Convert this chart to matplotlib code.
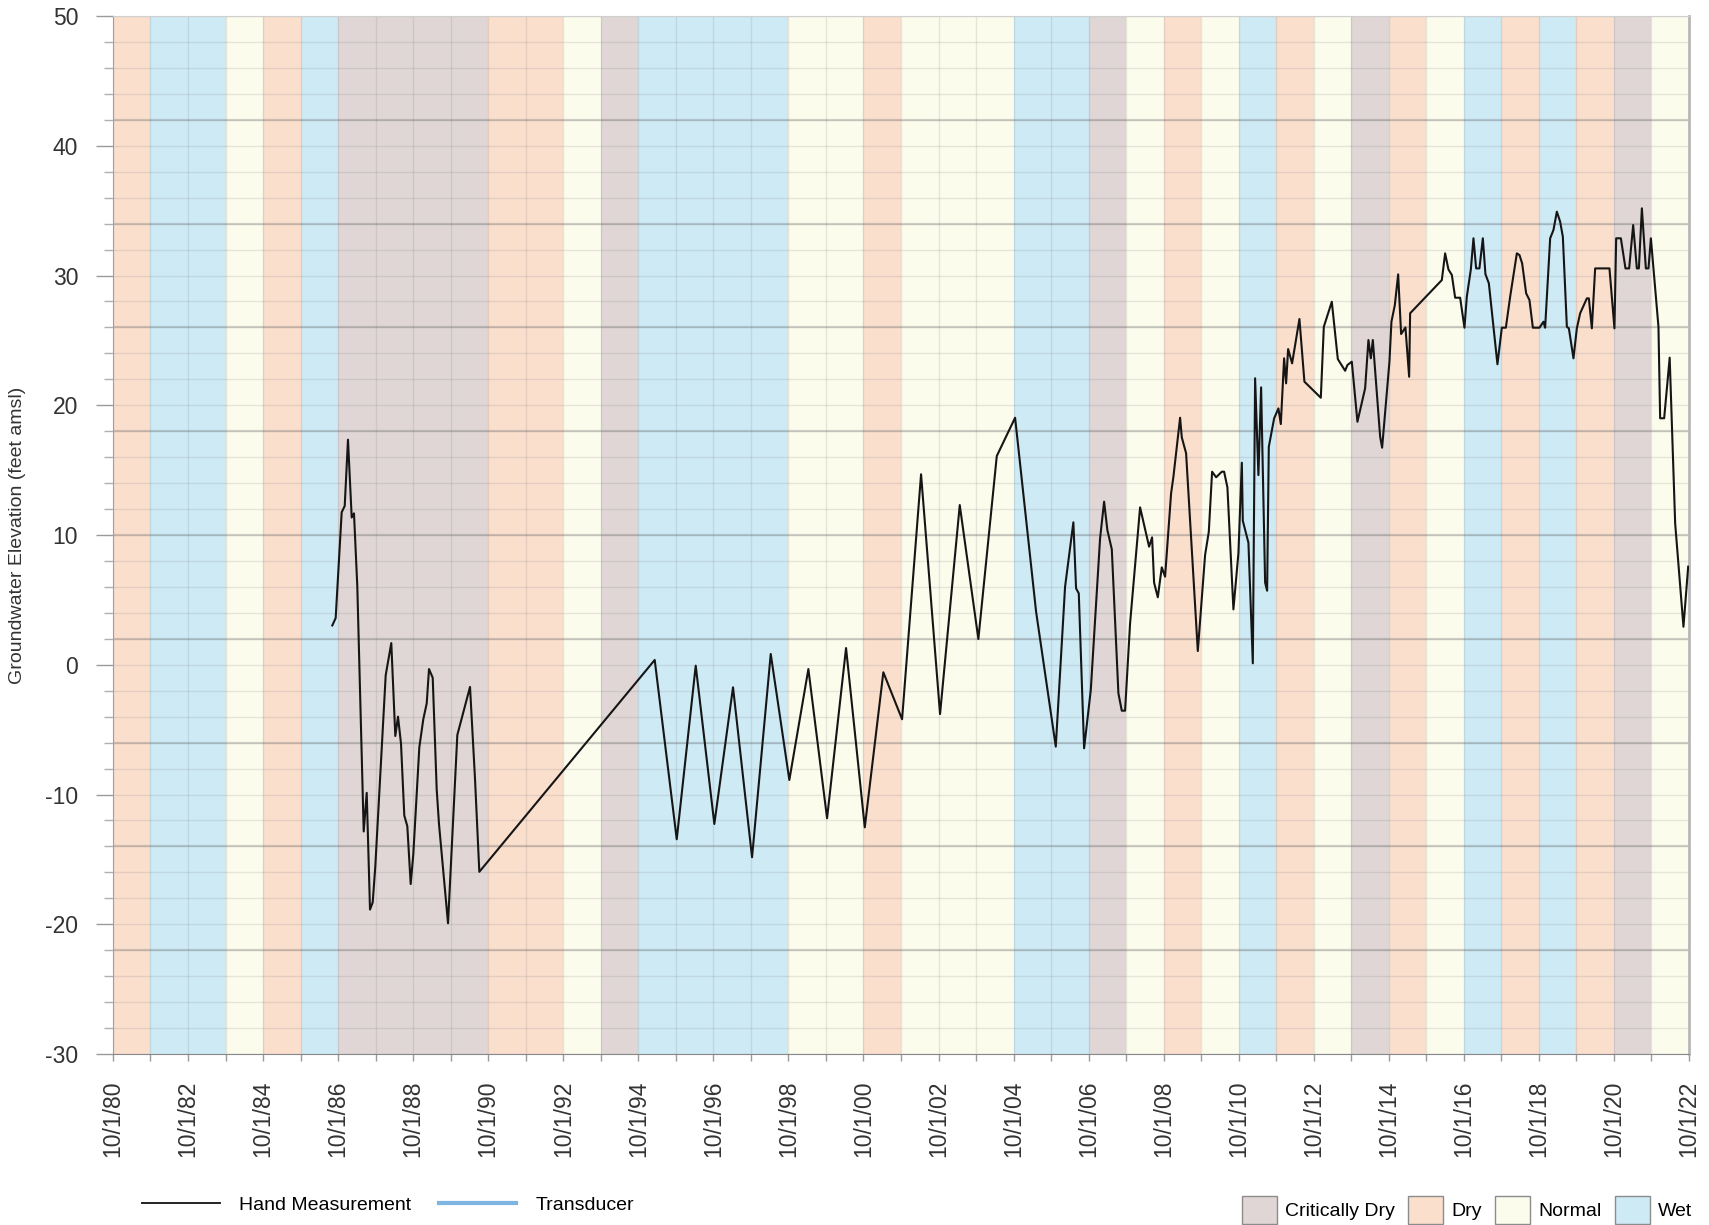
import matplotlib
matplotlib.use("Agg")
import matplotlib.pyplot as plt
import numpy as np
from matplotlib.font_manager import FontProperties
from matplotlib.lines import Line2D
from matplotlib.patches import Patch
from matplotlib.ticker import FixedLocator, MultipleLocator

plt.rcParams["font.family"] = ["Liberation Sans", "DejaVu Sans"]
plt.rcParams["axes.unicode_minus"] = False

# Tipo de ano hidrológico, WY1981 .. WY2022 (cada um começa em 10/1)
WY_START = 1980.75
wy_types = [
    "Dry", "Wet", "Wet", "Normal", "Dry", "Wet",
    "Critically Dry", "Critically Dry", "Critically Dry", "Critically Dry",
    "Dry", "Dry", "Normal", "Critically Dry",
    "Wet", "Wet", "Wet", "Wet",
    "Normal", "Normal", "Dry", "Normal", "Normal", "Normal",
    "Wet", "Wet", "Critically Dry", "Normal", "Dry", "Normal",
    "Wet", "Dry", "Normal", "Critically Dry", "Dry", "Normal",
    "Wet", "Dry", "Wet", "Dry", "Critically Dry", "Normal",
]
type_names = ["Critically Dry", "Dry", "Normal", "Wet"]
type_colors = ["#E0D6D6", "#FADFCD", "#FBFCEC", "#CEEAF5"]

# Medições manuais (ano decimal, elevação em pés amsl)
meas_year = [
    1986.595, 1986.685, 1986.845, 1986.926, 1987.013, 1987.112, 1987.173,
    1987.261, 1987.432, 1987.512, 1987.600, 1987.672, 1987.741, 1988.018,
    1988.167, 1988.274, 1988.346, 1988.426, 1988.514, 1988.594, 1988.684,
    1988.754, 1988.914, 1989.020, 1989.111, 1989.172, 1989.271, 1989.377,
    1989.439, 1989.679, 1989.927, 1990.265, 1990.398, 1990.513,
    1995.187, 1995.774, 1996.280, 1996.776, 1997.274, 1997.781, 1998.279,
    1998.775, 1999.282, 1999.780, 2000.286, 2000.785, 2001.280, 2001.779,
    2002.285, 2002.791, 2003.316, 2003.812, 2004.303, 2004.791, 2005.350,
    2005.875, 2006.123, 2006.344, 2006.416, 2006.488, 2006.630, 2006.808,
    2007.056, 2007.163, 2007.250, 2007.368, 2007.544, 2007.634, 2007.722,
    2007.855, 2008.122, 2008.362, 2008.442, 2008.495, 2008.594, 2008.700,
    2008.788, 2008.948, 2009.010, 2009.188, 2009.233, 2009.348, 2009.500,
    2009.660, 2009.854, 2009.953, 2010.041, 2010.148, 2010.300, 2010.361,
    2010.449, 2010.609, 2010.742, 2010.833, 2010.859, 2011.009, 2011.126,
    2011.187, 2011.275, 2011.347, 2011.454, 2011.507, 2011.552, 2011.694,
    2011.808, 2011.872, 2011.960, 2012.013, 2012.067, 2012.173, 2012.368,
    2012.501, 2012.938, 2013.018, 2013.231, 2013.391, 2013.586, 2013.647,
    2013.764, 2013.914, 2014.119, 2014.207, 2014.271, 2014.324, 2014.519,
    2014.572, 2014.767, 2014.820, 2014.911, 2014.999, 2015.078, 2015.193,
    2015.292, 2015.318, 2016.163, 2016.251, 2016.339, 2016.430, 2016.518,
    2016.651, 2016.766, 2016.829, 2016.936, 2017.006, 2017.077, 2017.165,
    2017.256, 2017.325, 2017.416, 2017.645, 2017.762, 2017.869, 2017.984,
    2018.162, 2018.232, 2018.303, 2018.410, 2018.498, 2018.589, 2018.765,
    2018.871, 2018.916, 2019.050, 2019.138, 2019.228, 2019.316, 2019.388,
    2019.495, 2019.548, 2019.671, 2019.761, 2019.849, 2020.028, 2020.081,
    2020.161, 2020.249, 2020.630, 2020.763, 2020.809, 2020.934, 2021.057,
    2021.155, 2021.262, 2021.360, 2021.414, 2021.494, 2021.600, 2021.670,
    2021.734, 2021.936, 2021.981, 2022.088, 2022.235, 2022.381, 2022.602,
    2022.728,
]
meas_elev = [
    3.03, 3.60, 11.75, 12.24, 17.35, 11.35, 11.67,
    6.08, -12.85, -9.87, -18.87, -18.31, -15.55, -0.81,
    1.67, -5.49, -4.00, -6.08, -11.63, -12.44, -16.90,
    -14.60, -6.36, -4.20, -2.98, -0.33, -1.00, -9.60,
    -12.30, -19.93, -5.41, -1.71, -8.79, -15.96,
    0.37, -13.45, -0.07, -12.27, -1.74, -14.84, 0.83,
    -8.88, -0.33, -11.83, 1.29, -12.53, -0.58, -4.20,
    14.68, -3.80, 12.31, 1.98, 16.09, 19.04, 4.10,
    -6.31, 6.02, 10.98, 5.89, 5.50, -6.44, -1.95,
    9.75, 12.57, 10.38, 8.90, -2.20, -3.54, -3.54,
    3.19, 12.13, 9.10, 9.82, 6.33, 5.20, 7.51,
    6.79, 13.21, 14.49, 19.04, 17.53, 16.30, 8.84,
    1.06, 8.46, 10.25, 14.88, 14.45, 14.88, 14.88,
    13.67, 4.27, 8.59, 15.57, 11.10, 9.41, 0.11,
    22.08, 14.62, 21.38, 6.33, 5.71, 16.80, 18.99,
    19.76, 18.55, 23.62, 21.69, 24.33, 23.23, 26.65,
    21.82, 20.58, 26.05, 27.98, 23.56, 22.66, 23.10,
    23.36, 18.73, 21.31, 25.03, 23.62, 25.03, 17.58,
    16.73, 23.36, 26.44, 27.73, 30.09, 25.49, 26.00,
    22.20, 27.09, 29.65, 31.71, 30.47, 30.04, 28.29,
    28.29, 25.98, 28.37, 30.47, 32.87, 30.55, 30.55,
    32.87, 30.11, 29.40, 23.16, 25.98, 25.98, 28.37,
    31.71, 31.58, 30.94, 28.63, 28.11, 25.98, 25.98,
    26.44, 25.98, 32.87, 33.51, 34.92, 34.15, 32.99,
    26.05, 25.93, 23.62, 25.93, 27.09, 28.24, 28.24,
    25.93, 30.55, 30.55, 25.93, 32.87, 32.87, 30.55,
    30.55, 33.89, 30.55, 30.55, 35.18, 30.55, 30.55,
    32.87, 26.05, 19.00, 19.00, 23.67, 10.90, 2.93,
    7.56,
]

xtick_labels = [
    "10/1/80", "10/1/82", "10/1/84", "10/1/86", "10/1/88", "10/1/90",
    "10/1/92", "10/1/94", "10/1/96", "10/1/98", "10/1/00", "10/1/02",
    "10/1/04", "10/1/06", "10/1/08", "10/1/10", "10/1/12", "10/1/14",
    "10/1/16", "10/1/18", "10/1/20", "10/1/22",
]

fig = plt.figure(figsize=(17.09, 12.25), dpi=100)
ax = fig.add_axes([0.0661, 0.1396, 0.9222, 0.8473])

# Faixas de fundo por ano hidrológico
for i, t in enumerate(wy_types):
    c = type_colors[type_names.index(t)]
    ax.axvspan(WY_START + i, WY_START + i + 1, color=c, lw=0, zorder=0)

# Linhas de grade: claras a cada 2 pés / 1 ano, escuras a cada 8 pés
ax.yaxis.set_major_locator(MultipleLocator(10))
ax.yaxis.set_minor_locator(MultipleLocator(2))
ax.xaxis.set_major_locator(FixedLocator(np.arange(WY_START, 2023, 2)))
ax.xaxis.set_minor_locator(FixedLocator(np.arange(WY_START, 2023, 1)))
ax.grid(which="both", color="#7a7a7a", alpha=0.17, lw=1.0)
for v in np.arange(-22, 50, 8):
    ax.axhline(v, color="#5a5a5a", alpha=0.25, lw=1.6, zorder=1.6)

ax.plot(meas_year, meas_elev, color="#151515", lw=1.5, zorder=3)

ax.set_xlim(WY_START, WY_START + len(wy_types))
ax.set_ylim(-30, 50)
ax.set_xticklabels(xtick_labels, rotation=90)

ax.tick_params(axis="y", which="major", length=12, width=1, color="#9a9a9a",
               pad=13, labelsize=16.5, labelcolor="#333333")
ax.tick_params(axis="y", which="minor", length=6.5, width=1, color="#b0b0b0")
ax.tick_params(axis="x", which="both", length=5, width=1, color="#9a9a9a",
               pad=14, labelsize=16.5, labelcolor="#333333")

ax.spines["left"].set_color("#a0a0a0")
ax.spines["bottom"].set_color("#888888")
ax.spines["top"].set_color("#d0d0d0")
ax.spines["right"].set_color("#b8b8b8")
ax.spines["right"].set_linewidth(2)

ax.set_ylabel("Groundwater Elevation (feet amsl)", fontsize=14,
              color="#333333", va="center")
ax.yaxis.set_label_coords((18 - 113) / 1576, 0.5)

legend_font = FontProperties(family=["Liberation Sans Narrow", "Liberation Sans"],
                             size=14)

fig.legend(
    handles=[Line2D([], [], color="#222222", lw=1.4),
             Line2D([], [], color="#7EB4E2", lw=3)],
    labels=["Hand Measurement", "Transducer"],
    loc="center left", bbox_to_anchor=(142 / 1709, 1 - 1205 / 1225),
    ncol=2, frameon=False, prop=legend_font, handlelength=4.0,
    handletextpad=1.0, columnspacing=1.4, borderpad=0, borderaxespad=0,
)

fig.legend(
    handles=[Patch(facecolor=c, edgecolor="#8c8c8c", lw=1) for c in type_colors],
    labels=type_names,
    loc="center right", bbox_to_anchor=(1692 / 1709, 1 - 1210 / 1225),
    ncol=4, frameon=False, prop=legend_font, handlelength=1.8, handleheight=1.9,
    handletextpad=0.4, columnspacing=0.7, borderpad=0, borderaxespad=0,
)

fig.savefig("out.png", dpi=100)
